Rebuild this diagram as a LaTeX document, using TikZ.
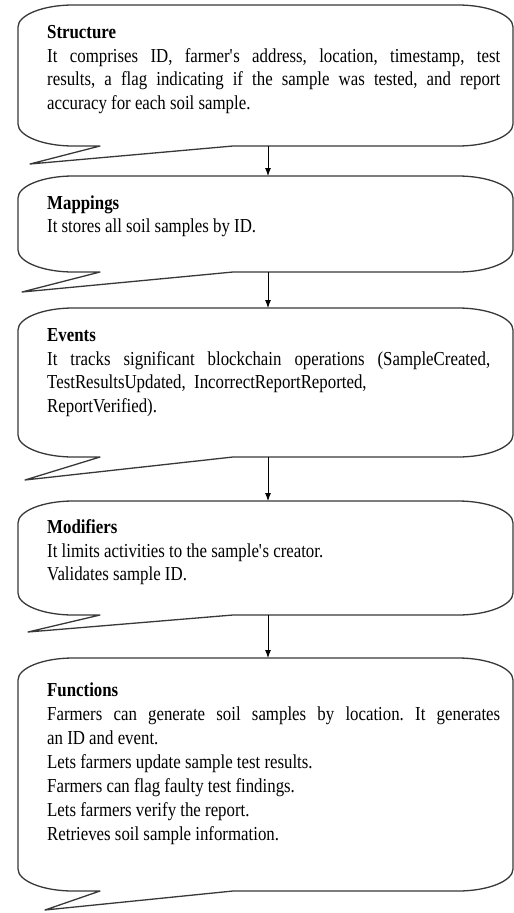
\documentclass[tikz,border=0pt]{standalone}
\usepackage{fontspec}
\setmainfont[FakeStretch=0.85]{Liberation Serif}
\usetikzlibrary{arrows.meta}

% one line set to a fixed width, spaces spread out
\newcommand{\spreadline}[2]{\makebox[#1][s]{#2}}

\begin{document}
\begin{tikzpicture}[x=1pt, y=-1pt,
		bubble/.style = {draw=black!78, line width=1.3pt, line join=round},
		txt/.style = {anchor=north west, inner sep=0pt, align=left, font=\fontsize{19.8}{23.5}\selectfont\frenchspacing},
		flow/.style = {-{Latex[length=8pt,width=6pt]}, line width=0.9pt}
	]
	\useasboundingbox (0,0) rectangle (514,913);

	% callout outlines: top / bottom / tail tip
	\foreach \ya/\yb/\tx/\ty in {5/146/30/164, 176/272/22/292, 308/457/25/480, 501/615/28/632, 658/891/45/910}{
		\draw[bubble] (18,\ya+22) .. controls (18,\ya+10) and (43,\ya) .. (73,\ya)
			-- (458,\ya) .. controls (488,\ya) and (513,\ya+10) .. (513,\ya+22)
			-- (513,\yb-22) .. controls (513,\yb-10) and (488,\yb) .. (458,\yb)
			-- (233,\yb) -- (\tx,\ty) -- (100,\yb) -- (73,\yb)
			.. controls (43,\yb) and (18,\yb-10) .. (18,\yb-22) -- cycle;
	}

	\node[txt] (struct) at (47,25.5) {\textbf{Structure}\\
		\spreadline{453pt}{It comprises ID, farmer\textquotesingle s address, location, timestamp, test}\\
		\spreadline{453pt}{results, a flag indicating if the sample was tested, and report}\\
		accuracy for each soil sample.};
	\node[txt] (mapp) at (47,195.5) {\textbf{Mappings}\\
		It stores all soil samples by ID.};
	\node[txt] (evts) at (47,328.5) {\textbf{Events}\\
		\spreadline{443pt}{It tracks significant blockchain operations (SampleCreated,}\\
		TestResultsUpdated,\ \ IncorrectReportReported,\\
		ReportVerified).};
	\node[txt] (modi) at (47,519.5) {\textbf{Modifiers}\\
		It limits activities to the sample\textquotesingle s creator.\\
		Validates sample ID.};
	\node[txt, font=\fontsize{19.8}{24}\selectfont\frenchspacing] (func) at (47,682.5) {\textbf{Functions}\\
		\spreadline{453pt}{Farmers can generate soil samples by location. It generates}\\
		an ID and event.\\
		Lets farmers update sample test results.\\
		Farmers can flag faulty test findings.\\
		Lets farmers verify the report.\\
		Retrieves soil sample information.};

	% arrow ends on the outlines
	\coordinate (struct-s) at (268,146);
	\coordinate (mapp-n)   at (268,176);
	\coordinate (mapp-s)   at (268,272);
	\coordinate (evts-n)   at (268,308);
	\coordinate (evts-s)   at (268,457);
	\coordinate (modi-n)   at (268,501);
	\coordinate (modi-s)   at (268,615);
	\coordinate (func-n)   at (268,658);

	\draw[flow] (struct-s) -- (mapp-n);
	\draw[flow] (mapp-s) -- (evts-n);
	\draw[flow] (evts-s) -- (modi-n);
	\draw[flow] (modi-s) -- (func-n);
\end{tikzpicture}
\end{document}
